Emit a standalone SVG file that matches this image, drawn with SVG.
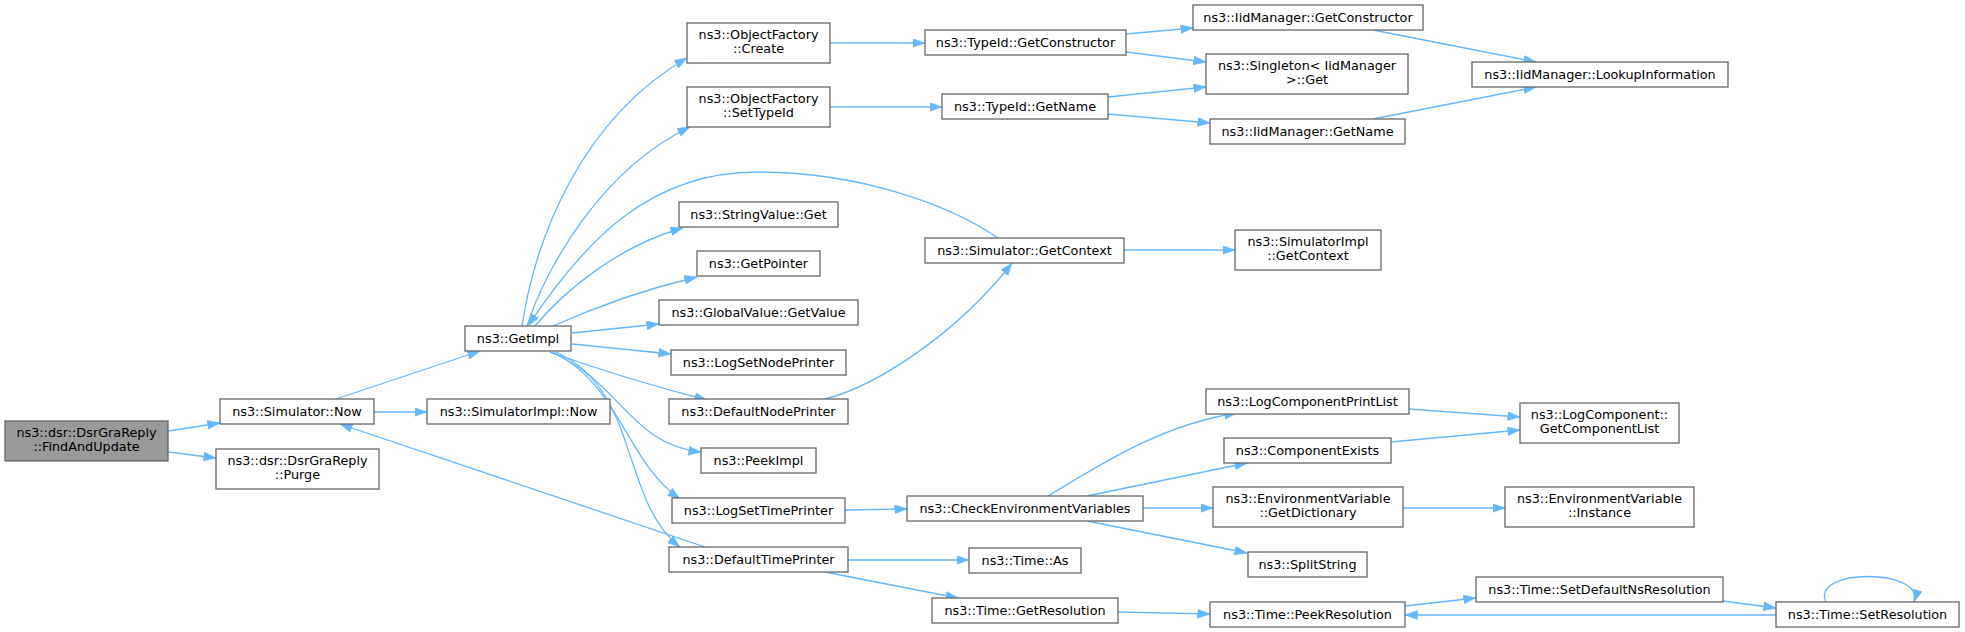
<svg xmlns="http://www.w3.org/2000/svg" width="1965" height="632" viewBox="0 0 1965 632">
<style>
.n rect{fill:#ffffff;stroke:#666666;stroke-width:1.3}
.root rect{fill:#999999}
text{font-family:"DejaVu Sans","Liberation Sans",sans-serif;font-size:12.8px;fill:#000000;text-anchor:middle}
.e path{fill:none;stroke:#63b8ff;stroke-width:1.3;marker-end:url(#ah)}
</style>
<defs>
<marker id="ah" markerUnits="userSpaceOnUse" markerWidth="13" markerHeight="10" refX="12.5" refY="4.5" orient="auto" viewBox="0 0 13 10">
<path d="M0,0 L12.5,4.5 L0,9 z" fill="#63b8ff" stroke="#63b8ff" stroke-width="0.5"/>
</marker>
</defs>
<rect width="1965" height="632" fill="#ffffff"/>
<g id="edges" class="e">
<path d="M168,431 L220,423"/>
<path d="M168,452 L216,458"/>
<path d="M336,399 L480,351"/>
<path d="M374,412 L427,412"/>
<path d="M705,547 L340,424"/>
<path d="M522,326 C535,240 580,120 687,58"/>
<path d="M527,326 C545,270 600,170 690,127"/>
<path d="M998,238 C950,205 860,172 757,172 C650,172 585,240 528,326"/>
<path d="M535,326 C565,290 620,245 683,228"/>
<path d="M553,326 C600,305 650,288 697,277"/>
<path d="M572,333 L659,324"/>
<path d="M572,344 L671,354"/>
<path d="M550,352 C600,370 660,388 707,400"/>
<path d="M550,352 C620,380 630,445 701,452"/>
<path d="M553,352 C620,385 625,460 680,499"/>
<path d="M556,352 C640,390 620,500 680,547"/>
<path d="M825,399 C880,385 960,330 1012,263"/>
<path d="M830,43 L925,43"/>
<path d="M830,107 L942,107"/>
<path d="M1126,34 L1193,28"/>
<path d="M1126,52 L1206,62"/>
<path d="M1108,97 L1206,87"/>
<path d="M1108,114 L1210,123"/>
<path d="M1373,30 L1536,62"/>
<path d="M1373,119 L1536,87"/>
<path d="M1124,250 L1235,250"/>
<path d="M845,510 L907,509"/>
<path d="M848,560 L969,560"/>
<path d="M825,572 L958,598"/>
<path d="M1048,496 C1100,465 1160,425 1237,413"/>
<path d="M1087,496 L1247,463"/>
<path d="M1143,508 L1213,508"/>
<path d="M1087,521 L1247,553"/>
<path d="M1409,409 L1520,417"/>
<path d="M1391,442 L1520,430"/>
<path d="M1403,508 L1505,508"/>
<path d="M1118,612 L1210,614"/>
<path d="M1405,606 L1476,598"/>
<path d="M1723,601 L1776,608"/>
<path d="M1776,615 L1405,615"/>
<path d="M1826,602 C1810,568 1925,568 1914,602"/>
</g>
<g id="n_find" class="n root"><rect x="5" y="421" width="163" height="40"/><text x="86.5" y="437">ns3::dsr::DsrGraReply</text><text x="86.5" y="451">::FindAndUpdate</text></g>
<g id="n_now" class="n"><rect x="220" y="399" width="154" height="25"/><text x="297" y="416">ns3::Simulator::Now</text></g>
<g id="n_purge" class="n"><rect x="216" y="449" width="163" height="40"/><text x="297.5" y="465">ns3::dsr::DsrGraReply</text><text x="297.5" y="479">::Purge</text></g>
<g id="n_getimpl" class="n"><rect x="465" y="326" width="106" height="25"/><text x="518" y="343">ns3::GetImpl</text></g>
<g id="n_simimplnow" class="n"><rect x="427" y="399" width="183" height="25"/><text x="518.5" y="416">ns3::SimulatorImpl::Now</text></g>
<g id="n_create" class="n"><rect x="687" y="23" width="143" height="40"/><text x="758.5" y="39">ns3::ObjectFactory</text><text x="758.5" y="53">::Create</text></g>
<g id="n_settypeid" class="n"><rect x="687" y="87" width="143" height="40"/><text x="758.5" y="103">ns3::ObjectFactory</text><text x="758.5" y="117">::SetTypeId</text></g>
<g id="n_strget" class="n"><rect x="679" y="202" width="159" height="25"/><text x="758.5" y="219">ns3::StringValue::Get</text></g>
<g id="n_getpointer" class="n"><rect x="697" y="251" width="123" height="25"/><text x="758.5" y="268">ns3::GetPointer</text></g>
<g id="n_globalget" class="n"><rect x="659" y="300" width="199" height="25"/><text x="758.5" y="317">ns3::GlobalValue::GetValue</text></g>
<g id="n_logsetnode" class="n"><rect x="671" y="350" width="175" height="25"/><text x="758.5" y="367">ns3::LogSetNodePrinter</text></g>
<g id="n_defnode" class="n"><rect x="669" y="399" width="179" height="25"/><text x="758.5" y="416">ns3::DefaultNodePrinter</text></g>
<g id="n_peekimpl" class="n"><rect x="701" y="448" width="115" height="25"/><text x="758.5" y="465">ns3::PeekImpl</text></g>
<g id="n_logsettime" class="n"><rect x="672" y="498" width="173" height="25"/><text x="758.5" y="515">ns3::LogSetTimePrinter</text></g>
<g id="n_deftime" class="n"><rect x="669" y="547" width="179" height="25"/><text x="758.5" y="564">ns3::DefaultTimePrinter</text></g>
<g id="n_tgetctor" class="n"><rect x="925" y="30" width="201" height="25"/><text x="1025.5" y="47">ns3::TypeId::GetConstructor</text></g>
<g id="n_tgetname" class="n"><rect x="942" y="94" width="166" height="25"/><text x="1025" y="111">ns3::TypeId::GetName</text></g>
<g id="n_simgetctx" class="n"><rect x="925" y="238" width="199" height="25"/><text x="1024.5" y="255">ns3::Simulator::GetContext</text></g>
<g id="n_iidctor" class="n"><rect x="1193" y="5" width="230" height="25"/><text x="1308" y="22">ns3::IidManager::GetConstructor</text></g>
<g id="n_singleton" class="n"><rect x="1206" y="54" width="202" height="40"/><text x="1307" y="70">ns3::Singleton&lt; IidManager</text><text x="1307" y="84">&gt;::Get</text></g>
<g id="n_iidname" class="n"><rect x="1210" y="119" width="195" height="25"/><text x="1307.5" y="136">ns3::IidManager::GetName</text></g>
<g id="n_lookup" class="n"><rect x="1472" y="62" width="256" height="25"/><text x="1600" y="79">ns3::IidManager::LookupInformation</text></g>
<g id="n_simimplctx" class="n"><rect x="1235" y="230" width="146" height="40"/><text x="1308" y="246">ns3::SimulatorImpl</text><text x="1308" y="260">::GetContext</text></g>
<g id="n_checkenv" class="n"><rect x="907" y="496" width="236" height="25"/><text x="1025" y="513">ns3::CheckEnvironmentVariables</text></g>
<g id="n_timeas" class="n"><rect x="969" y="548" width="112" height="25"/><text x="1025" y="565">ns3::Time::As</text></g>
<g id="n_getres" class="n"><rect x="932" y="598" width="186" height="25"/><text x="1025" y="615">ns3::Time::GetResolution</text></g>
<g id="n_logcompprint" class="n"><rect x="1206" y="389" width="203" height="25"/><text x="1307.5" y="406">ns3::LogComponentPrintList</text></g>
<g id="n_compexists" class="n"><rect x="1224" y="438" width="167" height="25"/><text x="1307.5" y="455">ns3::ComponentExists</text></g>
<g id="n_getcomplist" class="n"><rect x="1520" y="403" width="159" height="40"/><text x="1599.5" y="419">ns3::LogComponent::</text><text x="1599.5" y="433">GetComponentList</text></g>
<g id="n_getdict" class="n"><rect x="1213" y="487" width="190" height="40"/><text x="1308" y="503">ns3::EnvironmentVariable</text><text x="1308" y="517">::GetDictionary</text></g>
<g id="n_instance" class="n"><rect x="1505" y="487" width="189" height="40"/><text x="1599.5" y="503">ns3::EnvironmentVariable</text><text x="1599.5" y="517">::Instance</text></g>
<g id="n_splitstring" class="n"><rect x="1248" y="552" width="119" height="25"/><text x="1307.5" y="569">ns3::SplitString</text></g>
<g id="n_setdefns" class="n"><rect x="1476" y="577" width="247" height="25"/><text x="1599.5" y="594">ns3::Time::SetDefaultNsResolution</text></g>
<g id="n_peekres" class="n"><rect x="1210" y="602" width="195" height="25"/><text x="1307.5" y="619">ns3::Time::PeekResolution</text></g>
<g id="n_setres" class="n"><rect x="1776" y="602" width="183" height="25"/><text x="1867.5" y="619">ns3::Time::SetResolution</text></g>
</svg>
